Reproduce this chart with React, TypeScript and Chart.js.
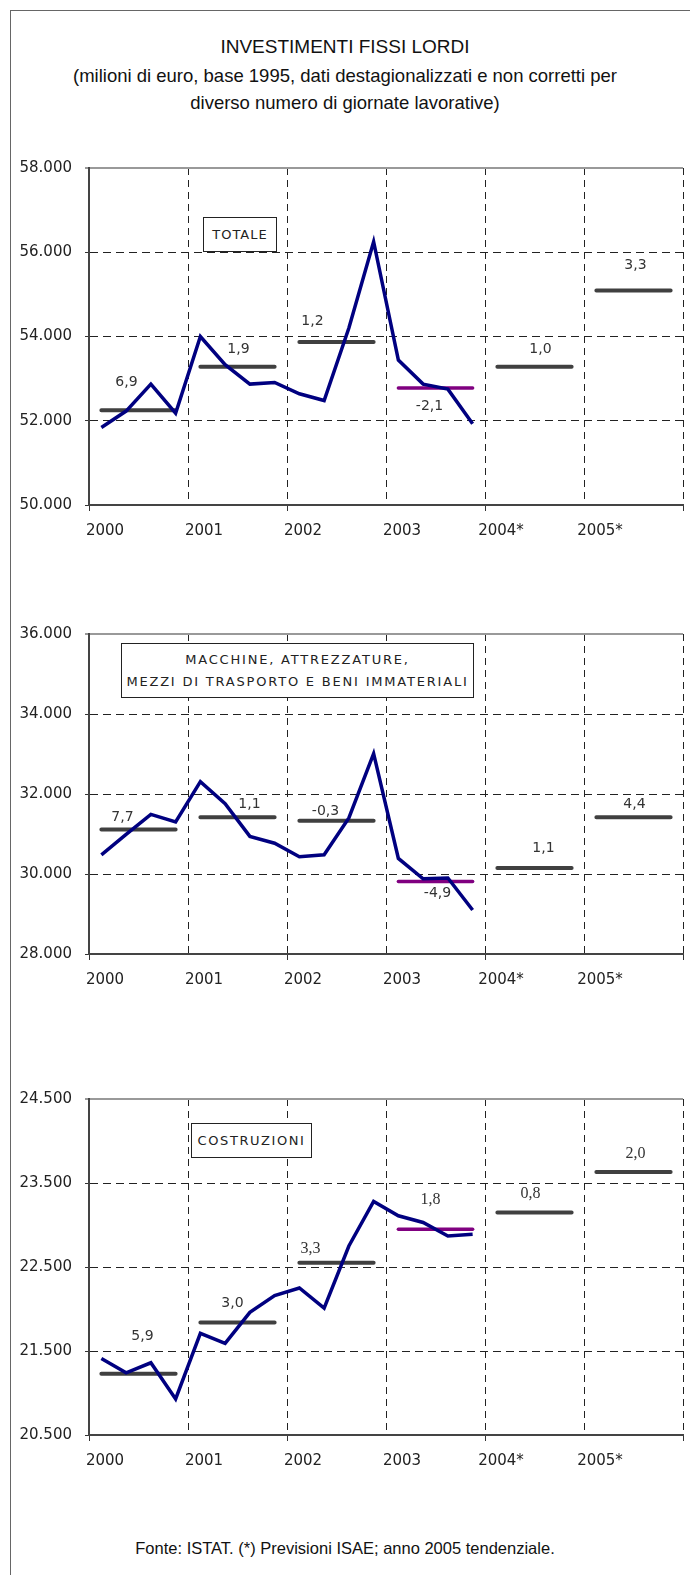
import React, { useEffect, useRef } from 'react';
import { Chart, registerables } from 'chart.js';

Chart.register(...registerables);

// ---------- DATA ----------
const years = [2000, 2001, 2002, 2003, 2004, 2005];
const xTickLabels = ['2000', '2001', '2002', '2003', '2004*', '2005*'];
const quarterYears = [2000, 2001, 2002, 2003];
const highlightYear = 2003;

const totaleQuarterly = [51840, 52230, 52870, 52180, 54000, 53330, 52870, 52910, 52640, 52480, 54200, 56250, 53440, 52870, 52750, 51930];
const totaleAnnual = [52250, 53280, 53870, 52780, 53280, 55090];
const totaleLabels = ['6,9', '1,9', '1,2', '-2,1', '1,0', '3,3'];

const macchineQuarterly = [30480, 30990, 31490, 31300, 32310, 31760, 30940, 30770, 30430, 30480, 31400, 33010, 30390, 29880, 29900, 29100];
const macchineAnnual = [31110, 31420, 31330, 29810, 30150, 31420];
const macchineLabels = ['7,7', '1,1', '-0,3', '-4,9', '1,1', '4,4'];

const costruzioniQuarterly = [21410, 21240, 21360, 20930, 21710, 21590, 21960, 22160, 22250, 22010, 22750, 23280, 23110, 23030, 22870, 22890];
const costruzioniAnnual = [21230, 21840, 22550, 22950, 23150, 23630];
const costruzioniLabels = ['5,9', '3,0', '3,3', '1,8', '0,8', '2,0'];

// ---------- LAYOUT / STYLE ----------
const TICK_FONT = { family: "'DejaVu Sans', sans-serif", size: 15 };
const SANS = "'Liberation Sans', Arial, sans-serif";

type ChartCfg = {
  quarterly: number[];
  annual: number[];
  labels: string[];
  yMin: number;
  yMax: number;
  yStep: number;
  plotTop: number;
  plotBottom: number;
  labelDx: number[];
  labelDy: number[];
  serif: boolean[];
};

const fmt = (v: number) => String(Math.round(v)).replace(/\B(?=(\d{3})+(?!\d))/g, '.');

function MiniChart(props: ChartCfg) {
  const ref = useRef<HTMLCanvasElement | null>(null);
  const PAD_TOP = 10;
  const X_H = 50;
  const W = 684;
  const H = props.plotBottom - props.plotTop + PAD_TOP + X_H;

  useEffect(() => {
    if (!ref.current) return;
    const qData = props.quarterly.map((v, i) => ({
      x: quarterYears[Math.floor(i / 4)] + ((i % 4) + 0.5) / 4,
      y: v,
    }));
    const grayData: any[] = [];
    const purpleData: any[] = [];
    years.forEach((yr, i) => {
      const target = yr === highlightYear ? purpleData : grayData;
      target.push({ x: yr + 0.125, y: props.annual[i] });
      target.push({ x: yr + 0.875, y: props.annual[i] });
      target.push({ x: yr + 0.95, y: null });
    });

    const labelPlugin = {
      id: 'barLabels',
      afterDatasetsDraw(chart: any) {
        const { ctx, scales } = chart;
        ctx.save();
        ctx.textAlign = 'center';
        ctx.textBaseline = 'middle';
        ctx.fillStyle = '#333';
        years.forEach((yr, i) => {
          const x = scales.x.getPixelForValue(yr + 0.5) + props.labelDx[i];
          const y = scales.y.getPixelForValue(props.annual[i]) + props.labelDy[i];
          ctx.font = props.serif[i]
            ? "16px 'Liberation Serif', 'Times New Roman', serif"
            : "14px 'DejaVu Sans', sans-serif";
          ctx.fillText(props.labels[i], x, y);
        });
        ctx.restore();
      },
    };

    const isTop = (c: any) => c.tick && c.tick.value === props.yMax;

    const chart = new Chart(ref.current, {
      type: 'line',
      data: {
        datasets: [
          {
            data: qData,
            borderColor: '#000080',
            borderWidth: 3.5,
            pointRadius: 0,
            tension: 0,
            borderJoinStyle: 'miter',
          },
          {
            data: grayData,
            borderColor: '#404040',
            borderWidth: 4,
            pointRadius: 0,
            borderCapStyle: 'round',
            spanGaps: false,
          },
          {
            data: purpleData,
            borderColor: '#800080',
            borderWidth: 3.5,
            pointRadius: 0,
            borderCapStyle: 'round',
            spanGaps: false,
          },
        ] as any,
      },
      options: {
        animation: false,
        responsive: false,
        maintainAspectRatio: false,
        devicePixelRatio: 1,
        layout: { padding: { top: PAD_TOP, left: 0, right: 0, bottom: 0 } },
        plugins: { legend: { display: false }, tooltip: { enabled: false } },
        scales: {
          x: {
            type: 'linear',
            min: 2000,
            max: 2006,
            afterBuildTicks: (s: any) => {
              s.ticks = [2000, 2001, 2002, 2003, 2004, 2005, 2006].map((v) => ({ value: v }));
            },
            afterFit: (s: any) => {
              s.height = X_H;
            },
            ticks: {
              autoSkip: false,
              maxRotation: 0,
              font: TICK_FONT,
              color: '#222',
              padding: 11,
              labelOffset: 16,
              callback: (v: any) => {
                const i = years.indexOf(Number(v));
                return i >= 0 ? xTickLabels[i] : '';
              },
            },
            grid: {
              color: '#222',
              lineWidth: 1,
              tickLength: 6,
              tickBorderDash: [],
              tickColor: (c: any) => (c.index % 2 === 0 ? '#333' : 'rgba(0,0,0,0)'),
            },
            border: { color: '#444', width: 2, dash: [7, 5] },
          },
          y: {
            min: props.yMin,
            max: props.yMax,
            afterBuildTicks: (s: any) => {
              const t: any[] = [];
              for (let v = props.yMin; v <= props.yMax + 0.5; v += props.yStep) t.push({ value: v });
              s.ticks = t;
            },
            afterFit: (s: any) => {
              s.width = 79;
            },
            ticks: {
              font: TICK_FONT,
              color: '#222',
              padding: 13,
              callback: (v: any) => fmt(Number(v)),
            },
            grid: {
              color: (c: any) => (isTop(c) ? '#999' : '#222'),
              lineWidth: (c: any) => (isTop(c) ? 2 : 1),
              tickLength: 4,
              tickBorderDash: [],
              tickColor: '#333',
              tickWidth: 1,
            },
            border: {
              color: '#444',
              width: 2,
              dash: (c: any) => (isTop(c) ? [] : [8, 5]),
            },
          },
        },
      } as any,
      plugins: [labelPlugin],
    });
    return () => chart.destroy();
  }, []);

  return (
    <canvas
      ref={ref}
      width={W}
      height={H}
      style={{ position: 'absolute', left: 10, top: props.plotTop - PAD_TOP, width: W, height: H }}
    />
  );
}

const boxStyle: React.CSSProperties = {
  position: 'absolute',
  border: '1px solid #222',
  boxSizing: 'border-box',
  background: '#fff',
  fontFamily: "'DejaVu Sans', sans-serif",
  fontSize: 13,
  color: '#222',
  textAlign: 'center',
  letterSpacing: '1.5px',
  whiteSpace: 'nowrap',
};

export default function App() {
  return (
    <div
      style={{
        position: 'absolute',
        left: 0,
        top: 0,
        width: 690,
        height: 1575,
        overflow: 'hidden',
        background: '#fff',
        fontFamily: SANS,
      }}
    >
      <div
        style={{
          position: 'absolute',
          left: 10,
          top: 10,
          width: 720,
          height: 1600,
          borderLeft: '1px solid #666',
          borderTop: '1px solid #666',
        }}
      />
      <div style={{ position: 'absolute', left: 0, width: 690, top: 35, textAlign: 'center', fontSize: 19, lineHeight: '24px', color: '#111' }}>
        INVESTIMENTI FISSI LORDI
      </div>
      <div style={{ position: 'absolute', left: 0, width: 690, top: 62, textAlign: 'center', fontSize: 18.5, lineHeight: '27px', color: '#111' }}>
        (milioni di euro, base 1995, dati destagionalizzati e non corretti per
        <br />
        diverso numero di giornate lavorative)
      </div>

      <MiniChart
        quarterly={totaleQuarterly}
        annual={totaleAnnual}
        labels={totaleLabels}
        yMin={50000}
        yMax={58000}
        yStep={2000}
        plotTop={156}
        plotBottom={505}
        labelDx={[-12, 1, -24, -6, 6, 2]}
        labelDy={[-28, -17, -21, 18, -17, -25]}
        serif={[false, false, false, false, false, false]}
      />
      <MiniChart
        quarterly={macchineQuarterly}
        annual={macchineAnnual}
        labels={macchineLabels}
        yMin={28000}
        yMax={36000}
        yStep={2000}
        plotTop={622}
        plotBottom={954}
        labelDx={[-16, 12, -11, 2, 9, 1]}
        labelDy={[-12, -13, -9, 12, -20, -13]}
        serif={[false, false, false, false, false, false]}
      />
      <MiniChart
        quarterly={costruzioniQuarterly}
        annual={costruzioniAnnual}
        labels={costruzioniLabels}
        yMin={20500}
        yMax={24500}
        yStep={1000}
        plotTop={1087}
        plotBottom={1435}
        labelDx={[4, -5, -26, -5, -4, 2]}
        labelDy={[-37, -19, -14, -29, -19, -18]}
        serif={[false, false, true, true, true, true]}
      />

      <div style={{ ...boxStyle, left: 203, top: 217, width: 74, height: 35, lineHeight: '33px', letterSpacing: '1px' }}>TOTALE</div>
      <div style={{ ...boxStyle, left: 121, top: 643, width: 353, height: 55, lineHeight: '22px', paddingTop: 5, letterSpacing: '1.8px' }}>
        MACCHINE, ATTREZZATURE,
        <br />
        MEZZI DI TRASPORTO E BENI IMMATERIALI
      </div>
      <div style={{ ...boxStyle, left: 191, top: 1123, width: 121, height: 35, lineHeight: '33px', letterSpacing: '1.6px' }}>COSTRUZIONI</div>

      <div style={{ position: 'absolute', left: 0, width: 690, top: 1538, textAlign: 'center', fontSize: 16.5, lineHeight: '20px', color: '#111' }}>
        Fonte: ISTAT. (*) Previsioni ISAE; anno 2005 tendenziale.
      </div>
    </div>
  );
}
